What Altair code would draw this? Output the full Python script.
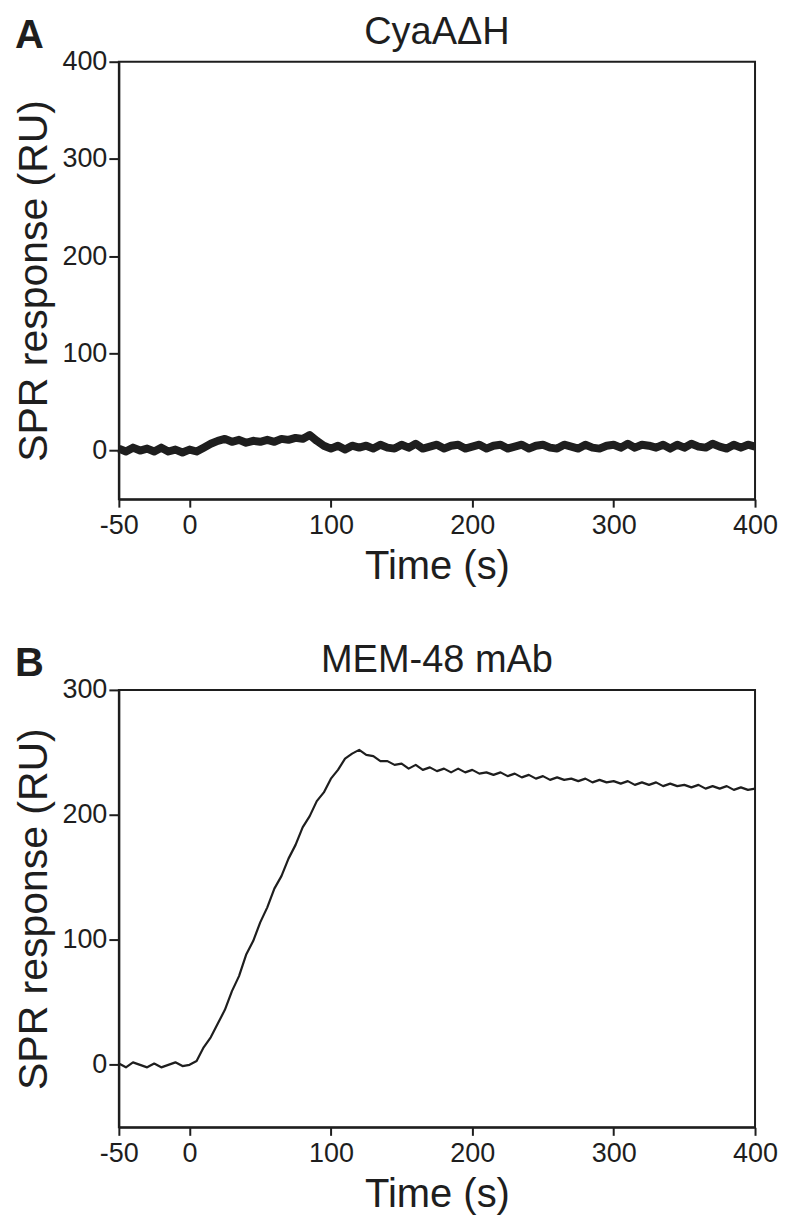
import altair as alt
import pandas as pd

# Time axis shared by both sensorgrams (s)
time_s = list(range(-50, 401, 5))

# Panel A: CyaAΔH response (RU)
cyaa_ru = [
    2, -1, 3, 0, 2, -1, 3, -1, 1, -2,
    1, -1, 3, 7, 10, 12, 9, 11, 8, 10,
    9, 11, 9, 12, 11, 13, 12, 16, 10, 5,
    2, 5, 1, 5, 3, 5, 2, 6, 3, 2,
    6, 3, 7, 2, 4, 6, 2, 5, 6, 2,
    4, 6, 2, 5, 6, 2, 4, 6, 2, 5,
    6, 3, 2, 6, 4, 2, 6, 3, 2, 5,
    6, 3, 7, 3, 6, 5, 3, 6, 2, 6,
    3, 7, 4, 3, 7, 4, 2, 6, 3, 6,
    4,
]

# Panel B: MEM-48 mAb response (RU)
mem48_ru = [
    1, -2, 2, 0, -2, 1, -2, 0, 2, -1,
    0, 3, 14, 22, 33, 44, 59, 71, 88, 99,
    114, 126, 141, 151, 165, 176, 190, 199, 211, 218,
    229, 236, 245, 249, 252, 248, 247, 243, 243, 240,
    241, 237, 240, 236, 238, 235, 237, 234, 237, 234,
    236, 233, 234, 232, 234, 231, 233, 230, 232, 229,
    231, 228, 230, 228, 229, 227, 229, 226, 228, 226,
    227, 225, 227, 224, 226, 224, 226, 223, 225, 223,
    224, 222, 224, 221, 223, 221, 223, 220, 222, 220,
    221,
]

x_ticks = [-50, 0, 100, 200, 300, 400]
FONT = "Liberation Sans"
INK = "#1e1e1e"
W = 637
H = 438


def panel(values, name, letter, ydom, yticks, stroke):
    df = pd.DataFrame({"time": time_s, "ru": values})
    line = alt.Chart(df).mark_line(color=INK, strokeWidth=stroke, strokeJoin="round").encode(
        x=alt.X("time:Q",
                scale=alt.Scale(domain=[-50, 400], nice=False, zero=False),
                axis=alt.Axis(values=x_ticks, title="Time (s)", labelExpr="'' + datum.value")),
        y=alt.Y("ru:Q",
                scale=alt.Scale(domain=ydom, nice=False, zero=False),
                axis=alt.Axis(values=yticks, title="SPR response (RU)", labelExpr="'' + datum.value")),
    )
    letter_mark = alt.Chart(pd.DataFrame({"t": [letter]})).mark_text(
        font=FONT, fontSize=40, fontWeight="bold", color=INK,
        align="left", baseline="top",
    ).encode(text="t:N", x=alt.value(-104), y=alt.value(-46))
    name_mark = alt.Chart(pd.DataFrame({"t": [name]})).mark_text(
        font=FONT, fontSize=38, fontWeight="normal", color=INK,
        align="center", baseline="top",
    ).encode(text="t:N", x=alt.value(W / 2), y=alt.value(-48))
    return alt.layer(line, letter_mark, name_mark).properties(width=W, height=H)


chart = alt.vconcat(
    panel(cyaa_ru, "CyaAΔH", "A", [-50, 400], [0, 100, 200, 300, 400], 8),
    panel(mem48_ru, "MEM-48 mAb", "B", [-50, 300], [0, 100, 200, 300], 2.2),
    spacing=54,
).properties(
    padding={"left": 4, "top": 4, "right": 0, "bottom": 0}
).configure_view(
    stroke=INK, strokeWidth=2
).configure_axis(
    grid=False,
    domainColor=INK, domainWidth=2,
    tickColor=INK, tickWidth=2,
    labelFont=FONT, labelFontSize=27, labelColor=INK,
    titleFont=FONT, titleFontWeight="normal", titleColor=INK,
).configure_axisY(
    titlePadding=6, titleFontSize=41, labelFlush=False, tickSize=10, labelPadding=2
).configure_axisX(
    titlePadding=8, titleFontSize=40, labelFlush=False, tickSize=8, labelPadding=5
)

chart.save("out.html", embed_options={"renderer": "svg", "actions": False})
